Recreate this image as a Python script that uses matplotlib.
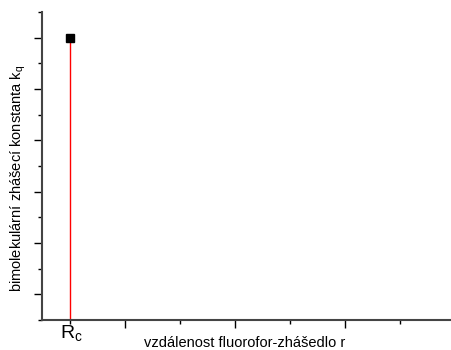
import matplotlib
matplotlib.use("Agg")
from matplotlib import pyplot as plt
from matplotlib.ticker import MultipleLocator, NullFormatter

plt.rcParams['font.family'] = ['Liberation Sans', 'DejaVu Sans']

# critical distance R_c and the quenching constant there
r_values = [1.0]
kq_values = [11.0]
r_label = 'R$_\\mathregular{c}$'

fig = plt.figure(figsize=(4.52, 3.5), dpi=100)
ax = fig.add_axes([0.093, 0.086, 0.907, 0.88])

# vertical red line down to the axis, black square on top
ax.vlines(r_values, 0, kq_values, color='red', lw=1.0, zorder=2)
ax.plot(r_values, kq_values, 's', color='black', ms=6, zorder=3)

ax.set_xlim(0.49, 7.95)
ax.set_ylim(0, 12)

ax.xaxis.set_major_locator(MultipleLocator(2))
ax.xaxis.set_minor_locator(MultipleLocator(1))
ax.yaxis.set_major_locator(MultipleLocator(2, offset=1))
ax.yaxis.set_minor_locator(MultipleLocator(1))
ax.xaxis.set_major_formatter(NullFormatter())
ax.yaxis.set_major_formatter(NullFormatter())

ax.tick_params(which='major', direction='out', length=6, width=1, color='black')
ax.tick_params(which='minor', direction='out', length=3, width=1, color='black')

for side in ('top', 'right'):
    ax.spines[side].set_visible(False)
for side in ('left', 'bottom'):
    ax.spines[side].set_color('#444444')
    ax.spines[side].set_linewidth(1.5)

ax.text(r_values[0] + 0.02, -0.15, r_label, ha='center', va='top', fontsize=14)

fig.text(245 / 452, 1 - 343 / 350, 'vzdálenost fluorofor-zhášedlo r',
         ha='center', va='center', fontsize=10.5)
fig.text(18 / 452, 1 - 178 / 350, 'bimolekulární zhášecí konstanta k$_\\mathregular{q}$',
         ha='center', va='center', rotation=90, fontsize=10.5)

fig.savefig('out.png', dpi=100)
